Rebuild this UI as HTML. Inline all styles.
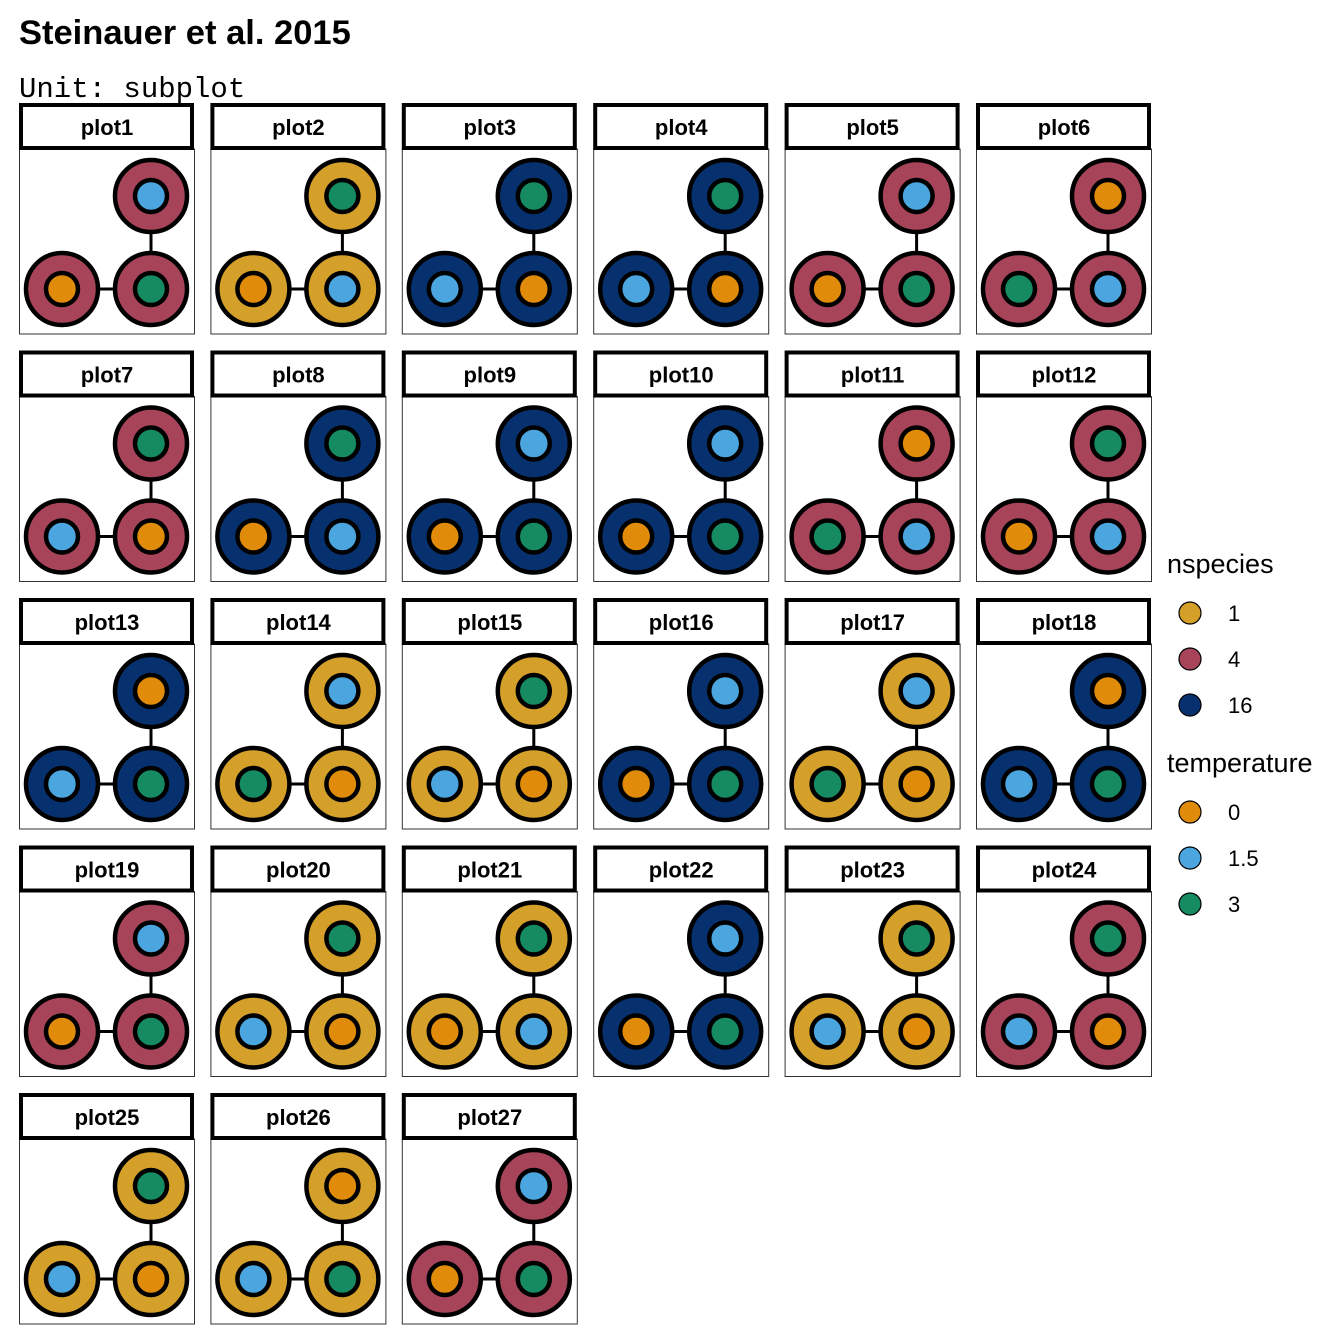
<!DOCTYPE html>
<html><head><meta charset="utf-8"><style>body{margin:0;background:#fff}svg{display:block}</style></head>
<body>
<svg id="chart" width="1344" height="1344" xmlns="http://www.w3.org/2000/svg">
<rect width="1344" height="1344" fill="#fff"/>
<text x="19" y="44" font-family="Liberation Sans, sans-serif" font-weight="bold" font-size="34.5">Steinauer et al. 2015</text>
<text x="19" y="97" font-family="Liberation Mono, monospace" font-size="29">Unit: subplot</text>
<g id="panels"></g>
<g id="legend" font-family="Liberation Sans, sans-serif"></g>
</svg>
<script>
const plotNames = Array.from({length:27},(_,i)=>'plot'+(i+1));
// nspecies per plot (outer ring)
const nspecies = [4,1,16,16,4,4,4,16,16,16,4,4,16,1,1,16,1,16,4,1,1,16,1,4,1,1,4];
// temperature: top-right, bottom-left, bottom-right
const tempTR = [1.5,3,3,3,1.5,0,3,3,1.5,1.5,0,3,0,1.5,3,1.5,1.5,0,1.5,3,3,1.5,3,3,3,0,1.5];
const tempBL = [0,0,1.5,1.5,0,3,1.5,0,0,0,3,0,1.5,3,1.5,0,3,1.5,0,1.5,0,0,1.5,1.5,1.5,1.5,0];
const tempBR = [3,1.5,0,0,3,1.5,0,1.5,3,3,1.5,1.5,3,0,0,3,0,3,3,0,1.5,3,0,0,0,3,3];
const nsLevels=[1,4,16], nsColors=['#D4A02A','#A8445A','#07316E'];
const tLevels=[0,1.5,3], tColors=['#E08C0A','#4BA6E0','#168A60'];
const NS='http://www.w3.org/2000/svg';
function mk(tag,attrs,parent){const e=document.createElementNS(NS,tag);for(const k in attrs)e.setAttribute(k,attrs[k]);parent.appendChild(e);return e;}
const nsCol=v=>nsColors[nsLevels.indexOf(v)], tCol=v=>tColors[tLevels.indexOf(v)];
const panels=document.getElementById('panels');
plotNames.forEach((name,i)=>{
  const c=i%6,r=Math.floor(i/6);
  const x=19+c*191.4, y=103+r*247.5;
  const g=mk('g',{},panels);
  
  
  const pb=mk('rect',{x:x+0.5,y:y+46,width:175,height:185,fill:'#fff',stroke:'#333','stroke-width':1},g);
  
  
  const hb=mk('rect',{x:x+2,y:y+2,width:171,height:43,fill:'#fff',stroke:'#000','stroke-width':4},g);
  
  
  const t=mk('text',{x:x+88,y:y+32,'text-anchor':'middle','font-family':'Liberation Sans, sans-serif','font-weight':'bold','font-size':22},g);
  t.textContent=name;
  
  
  const tr=[x+132,y+93], bl=[x+43,y+186], br=[x+132,y+186];
  mk('line',{x1:tr[0],y1:tr[1],x2:br[0],y2:br[1],stroke:'#000','stroke-width':3},g);
  mk('line',{x1:bl[0],y1:bl[1],x2:br[0],y2:br[1],stroke:'#000','stroke-width':3},g);
  [[tr,tempTR[i],'top-right'],[bl,tempBL[i],'bottom-left'],[br,tempBR[i],'bottom-right']].forEach(([p,tv,lab])=>{
    const o=mk('circle',{cx:p[0],cy:p[1],r:36,fill:nsCol(nspecies[i]),stroke:'#000','stroke-width':4.5},g);
    
    
    const n=mk('circle',{cx:p[0],cy:p[1],r:16,fill:tCol(tv),stroke:'#000','stroke-width':4.5},g);
    
    
  });
});
const lg=document.getElementById('legend');
function title(txt,y){const t=mk('text',{x:1167,y:y,'font-size':27},lg);t.textContent=txt;}
function entry(col,lab,y){const c=mk('circle',{cx:1190,cy:y,r:11,fill:col,stroke:'#000','stroke-width':1.2},lg);const t=mk('text',{x:1228,y:y+8,'font-size':22},lg);t.textContent=lab;}
title('nspecies',573);
nsLevels.forEach((v,k)=>entry(nsColors[k],String(v),613+k*46));
title('temperature',772);
tLevels.forEach((v,k)=>entry(tColors[k],String(v),812+k*46));
</script>
</body></html>
